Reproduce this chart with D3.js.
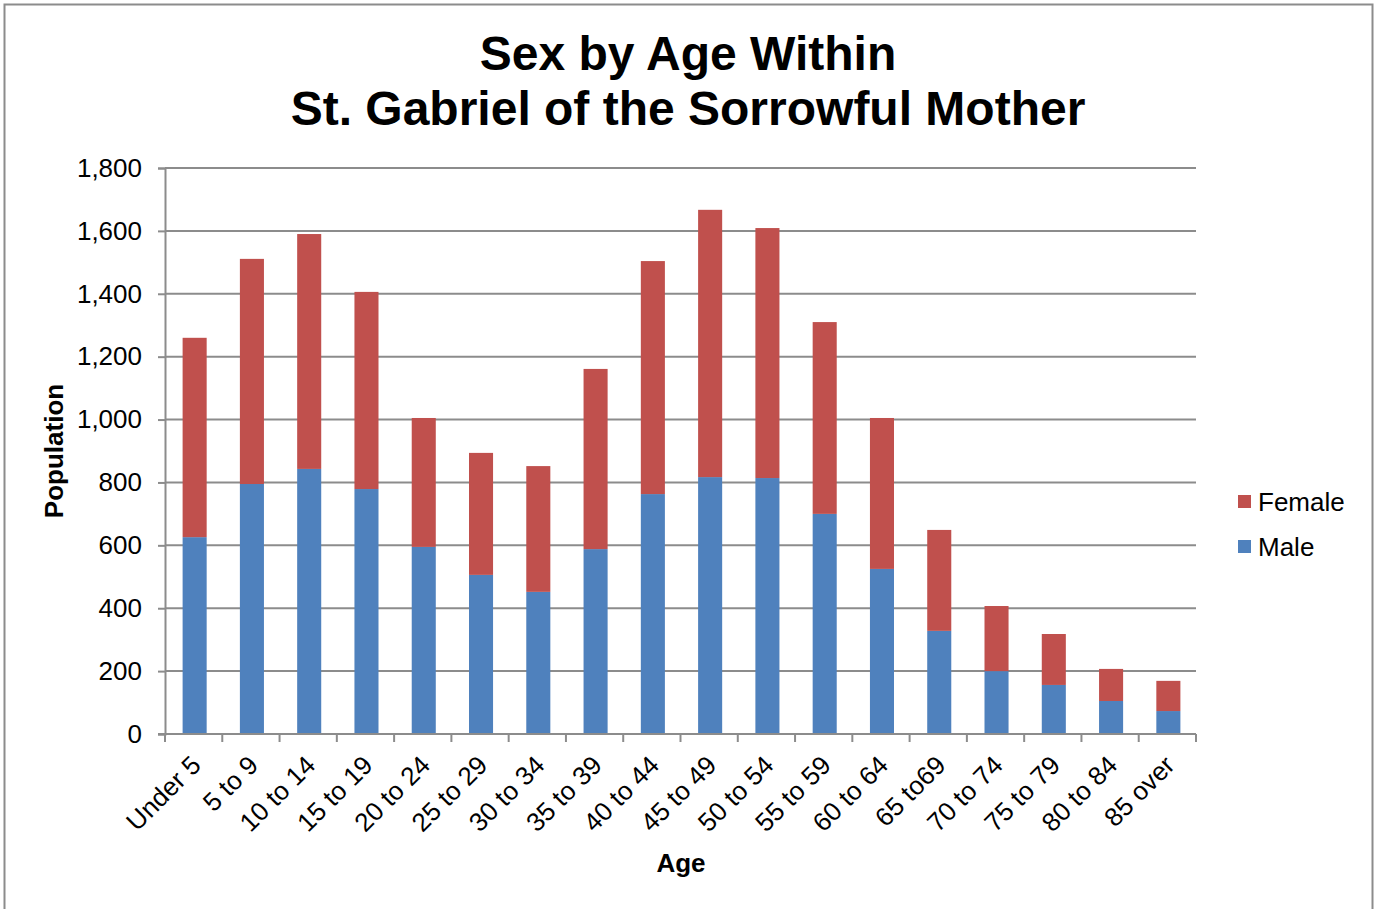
<!DOCTYPE html>
<html>
<head>
<meta charset="utf-8">
<script src="https://cdn.jsdelivr.net/npm/d3@7"></script>
<style>
  body { margin: 0; background: #fff; }
  svg { font-family: "Liberation Sans", Arial, sans-serif; }
</style>
</head>
<body>
<div id="root"></div>
<script>
const WIDTH = 1375;
const HEIGHT = 909;
const MARGIN = {top: 168, right: 179, bottom: 175, left: 165};

const ageGroups = ["Under 5", "5 to 9", "10 to 14", "15 to 19", "20 to 24", "25 to 29",
  "30 to 34", "35 to 39", "40 to 44", "45 to 49", "50 to 54", "55 to 59", "60 to 64",
  "65 to69", "70 to 74", "75 to 79", "80 to 84", "85 over"];
const male = [626, 795, 843, 779, 595, 506, 452, 588, 763, 817, 814, 700, 525, 328, 200, 156, 105, 73];
const female = [634, 716, 747, 627, 410, 388, 400, 573, 741, 850, 795, 610, 480, 321, 207, 162, 102, 96];
const yTicks = [0, 200, 400, 600, 800, 1000, 1200, 1400, 1600, 1800];
const seriesNames = ["Male", "Female"];
const seriesColors = {Male: "#4F81BD", Female: "#C0504D"};

const table = ageGroups.map((g, i) => ({age: g, Male: male[i], Female: female[i]}));
const stacked = d3.stack().keys(seriesNames)(table);

const svg = d3.select("#root").append("svg")
  .attr("width", WIDTH)
  .attr("height", HEIGHT);

// outer frame
svg.append("rect")
  .attr("x", 4.5).attr("y", 4.5)
  .attr("width", 1368).attr("height", 920)
  .attr("fill", "none")
  .attr("stroke", "#8c8c8c")
  .attr("stroke-width", 2);

const x = d3.scaleBand()
  .domain(ageGroups)
  .range([MARGIN.left, WIDTH - MARGIN.right])
  .paddingInner(0.58)
  .paddingOuter(0.29);

const y = d3.scaleLinear()
  .domain([0, 1800])
  .range([HEIGHT - MARGIN.bottom, MARGIN.top]);

const bandStep = (WIDTH - MARGIN.right - MARGIN.left) / ageGroups.length;

// gridlines
svg.append("g")
  .selectAll("line")
  .data(yTicks.filter(t => t > 0))
  .join("line")
  .attr("x1", MARGIN.left)
  .attr("x2", WIDTH - MARGIN.right)
  .attr("y1", d => y(d))
  .attr("y2", d => y(d))
  .attr("stroke", "#8c8c8c")
  .attr("stroke-width", 2);

// bars
svg.append("g")
  .selectAll("g")
  .data(stacked)
  .join("g")
  .attr("fill", d => seriesColors[d.key])
  .selectAll("rect")
  .data(d => d)
  .join("rect")
  .attr("x", d => x(d.data.age) + 1)
  .attr("y", d => y(d[1]))
  .attr("width", x.bandwidth())
  .attr("height", d => y(d[0]) - y(d[1]));

// y axis
const yAxis = svg.append("g")
  .attr("transform", `translate(${MARGIN.left},0)`)
  .call(d3.axisLeft(y).tickValues(yTicks).tickSize(7).tickPadding(16).tickFormat(d3.format(",")));
yAxis.select(".domain").attr("stroke", "#8c8c8c").attr("stroke-width", 2);
yAxis.selectAll(".tick line").attr("stroke", "#8c8c8c").attr("stroke-width", 2);
yAxis.selectAll(".tick text")
  .attr("font-size", 26)
  .attr("fill", "#000")
  .attr("font-family", "Liberation Sans, Arial, sans-serif");

// x axis
const xAxisG = svg.append("g")
  .attr("transform", `translate(0,${HEIGHT - MARGIN.bottom})`);
xAxisG.append("line")
  .attr("x1", MARGIN.left - 7).attr("x2", WIDTH - MARGIN.right)
  .attr("stroke", "#8c8c8c").attr("stroke-width", 2);
xAxisG.selectAll("line.tk")
  .data(d3.range(ageGroups.length + 1))
  .join("line")
  .attr("class", "tk")
  .attr("x1", i => MARGIN.left + i * bandStep)
  .attr("x2", i => MARGIN.left + i * bandStep)
  .attr("y1", 0).attr("y2", 8)
  .attr("stroke", "#8c8c8c").attr("stroke-width", 2);
xAxisG.selectAll("text")
  .data(ageGroups)
  .join("text")
  .attr("transform", d => `translate(${x(d) + x.bandwidth() / 2 - 4},${20}) rotate(-45)`)
  .attr("text-anchor", "end")
  .attr("dy", "0.7em")
  .attr("font-size", 26)
  .attr("fill", "#000")
  .text(d => d);

// titles
const title = svg.append("text")
  .attr("text-anchor", "middle")
  .attr("font-weight", "bold")
  .attr("font-size", 48)
  .attr("fill", "#000");
title.append("tspan").attr("x", 688).attr("y", 70).text("Sex by Age Within");
title.append("tspan").attr("x", 688).attr("y", 125).text("St. Gabriel of the Sorrowful Mother");

svg.append("text")
  .attr("x", 681).attr("y", 872)
  .attr("text-anchor", "middle")
  .attr("font-weight", "bold")
  .attr("font-size", 26)
  .text("Age");

svg.append("text")
  .attr("transform", "translate(63,451) rotate(-90)")
  .attr("text-anchor", "middle")
  .attr("font-weight", "bold")
  .attr("font-size", 26)
  .text("Population");

// legend
const legendItems = ["Female", "Male"];
const legend = svg.append("g").attr("transform", "translate(1238,495)");
legendItems.forEach((name, i) => {
  const g = legend.append("g").attr("transform", `translate(0,${i * 45})`);
  g.append("rect").attr("width", 13).attr("height", 13).attr("fill", seriesColors[name]);
  g.append("text").attr("x", 20).attr("y", 16).attr("font-size", 26).text(name);
});
</script>
</body>
</html>
